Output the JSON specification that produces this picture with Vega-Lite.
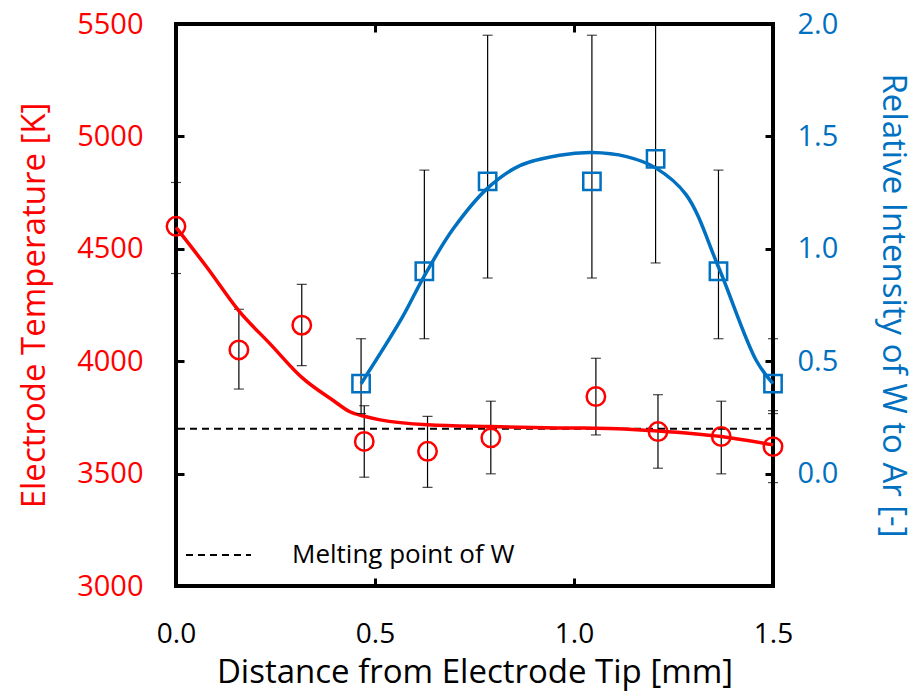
{
  "$schema": "https://vega.github.io/schema/vega-lite/v6.json",
  "autosize": {"type": "none"},
  "width": 597,
  "height": 562,
  "padding": {"left": 176, "top": 24, "right": 144, "bottom": 112},
  "background": "white",
  "config": {
    "view": {"stroke": "black", "strokeWidth": 4},
    "font": "Open Sans",
    "scale": {"continuousPadding": 0},
    "axis": {"grid": false, "domain": false, "tickSize": -8, "tickWidth": 3, "tickColor": "black", "titleFontWeight": "normal", "labelFont": "Open Sans", "titleFont": "Open Sans", "labelFlush": false}
  },
  "datasets": {
    "temp": [
      {"x": 0.0, "T": 4600, "lo": 4390, "hi": 4795},
      {"x": 0.158, "T": 4050, "lo": 3876, "hi": 4231},
      {"x": 0.316, "T": 4160, "lo": 3980, "hi": 4342},
      {"x": 0.473, "T": 3643, "lo": 3484, "hi": 3802},
      {"x": 0.632, "T": 3599, "lo": 3439, "hi": 3755},
      {"x": 0.791, "T": 3659, "lo": 3499, "hi": 3822},
      {"x": 1.055, "T": 3843, "lo": 3672, "hi": 4013},
      {"x": 1.211, "T": 3687, "lo": 3524, "hi": 3851},
      {"x": 1.37, "T": 3665, "lo": 3499, "hi": 3822},
      {"x": 1.5, "T": 3620, "lo": 3460, "hi": 3780}
    ],
    "tempFit": [
      {"x": 0.0, "T": 4595},
      {"x": 0.078, "T": 4417},
      {"x": 0.158, "T": 4224},
      {"x": 0.237, "T": 4076},
      {"x": 0.316, "T": 3928},
      {"x": 0.396, "T": 3824},
      {"x": 0.437, "T": 3775},
      {"x": 0.473, "T": 3755},
      {"x": 0.513, "T": 3739},
      {"x": 0.632, "T": 3717},
      {"x": 0.791, "T": 3709},
      {"x": 0.96, "T": 3703},
      {"x": 1.055, "T": 3702},
      {"x": 1.211, "T": 3690},
      {"x": 1.37, "T": 3665},
      {"x": 1.5, "T": 3628}
    ],
    "intens": [
      {"x": 0.465, "I": 0.40, "lo": 0.267, "hi": 0.60},
      {"x": 0.624, "I": 0.90, "lo": 0.60, "hi": 1.35},
      {"x": 0.783, "I": 1.30, "lo": 0.87, "hi": 1.95},
      {"x": 1.045, "I": 1.30, "lo": 0.87, "hi": 1.95},
      {"x": 1.205, "I": 1.40, "lo": 0.937, "hi": 2.0},
      {"x": 1.363, "I": 0.90, "lo": 0.60, "hi": 1.35},
      {"x": 1.5, "I": 0.40, "lo": 0.267, "hi": 0.60}
    ],
    "intFit": [
      {"x": 0.465, "I": 0.40},
      {"x": 0.567, "I": 0.69},
      {"x": 0.624, "I": 0.88},
      {"x": 0.697, "I": 1.09},
      {"x": 0.783, "I": 1.27},
      {"x": 0.864, "I": 1.37},
      {"x": 0.964, "I": 1.416},
      {"x": 1.045, "I": 1.428},
      {"x": 1.132, "I": 1.41},
      {"x": 1.205, "I": 1.36},
      {"x": 1.282, "I": 1.24},
      {"x": 1.363, "I": 0.919},
      {"x": 1.458, "I": 0.503},
      {"x": 1.5, "I": 0.40}
    ],
    "melt": [{"T": 3700, "label": "Melting point of W"}]
  },
  "layer": [
    {
      "layer": [
        {
          "data": {"name": "melt"},
          "mark": {"type": "rule", "strokeWidth": 2, "color": "black"},
          "encoding": {
            "y": {"field": "T", "type": "quantitative", "scale": {"domain": [3000, 5500], "nice": false}},
            "strokeDash": {
              "field": "label", "type": "nominal",
              "scale": {"range": [[7, 5]]},
              "legend": {
                "title": null, "orient": "bottom-left", "offset": 9, "padding": 0,
                "symbolType": "stroke", "symbolSize": 4225, "symbolStrokeWidth": 2,
                "symbolStrokeColor": "black", "clipHeight": 44,
                "labelFontSize": 26, "labelFont": "Open Sans", "labelColor": "black", "labelOffset": 40, "labelLimit": 400
              }
            }
          }
        },
        {
          "data": {"name": "temp"},
          "mark": {"type": "rule", "strokeWidth": 1.2, "color": "black"},
          "encoding": {
            "x": {"field": "x", "type": "quantitative"},
            "y": {"field": "lo", "type": "quantitative"},
            "y2": {"field": "hi"}
          }
        },
        {
          "data": {"name": "temp"},
          "mark": {"type": "tick", "orient": "horizontal", "thickness": 1.2, "size": 10, "color": "black"},
          "encoding": {
            "x": {"field": "x", "type": "quantitative"},
            "y": {"field": "lo", "type": "quantitative"}
          }
        },
        {
          "data": {"name": "temp"},
          "mark": {"type": "tick", "orient": "horizontal", "thickness": 1.2, "size": 10, "color": "black"},
          "encoding": {
            "x": {"field": "x", "type": "quantitative"},
            "y": {"field": "hi", "type": "quantitative"}
          }
        },
        {
          "data": {"name": "tempFit"},
          "mark": {"type": "line", "color": "#FF0000", "strokeWidth": 3.5, "interpolate": "monotone"},
          "encoding": {
            "x": {"field": "x", "type": "quantitative"},
            "y": {"field": "T", "type": "quantitative"}
          }
        },
        {
          "data": {"name": "temp"},
          "mark": {"type": "point", "shape": "circle", "filled": false, "color": "#FF0000", "strokeWidth": 2.5, "size": 340, "opacity": 1},
          "encoding": {
            "x": {
              "field": "x", "type": "quantitative",
              "scale": {"domain": [0, 1.5], "nice": false, "padding": 0},
              "axis": {
                "orient": "bottom", "values": [0, 0.5, 1, 1.5], "format": ".1f",
                "title": "Distance from Electrode Tip [mm]",
                "labelFontSize": 28, "labelColor": "black", "labelPadding": 42,
                "titleFontSize": 33, "titleColor": "black", "titlePadding": 8
              }
            },
            "y": {
              "field": "T", "type": "quantitative",
              "axis": {
                "orient": "left", "values": [3000, 3500, 4000, 4500, 5000, 5500], "format": "d",
                "title": "Electrode Temperature [K]",
                "labelFontSize": 29, "labelColor": "#FF0000", "labelPadding": 41,
                "titleFontSize": 33, "titleColor": "#FF0000", "titlePadding": 25
              }
            }
          }
        }
      ]
    },
    {
      "layer": [
        {
          "data": {"name": "intens"},
          "mark": {"type": "rule", "strokeWidth": 1.2, "color": "black"},
          "encoding": {
            "x": {"field": "x", "type": "quantitative"},
            "y": {"field": "lo", "type": "quantitative", "scale": {"domain": [-0.5, 2.0], "nice": false, "padding": 0}},
            "y2": {"field": "hi"}
          }
        },
        {
          "data": {"name": "intens"},
          "mark": {"type": "tick", "orient": "horizontal", "thickness": 1.2, "size": 10, "color": "black"},
          "encoding": {
            "x": {"field": "x", "type": "quantitative"},
            "y": {"field": "lo", "type": "quantitative"}
          }
        },
        {
          "data": {"name": "intens"},
          "mark": {"type": "tick", "orient": "horizontal", "thickness": 1.2, "size": 10, "color": "black"},
          "encoding": {
            "x": {"field": "x", "type": "quantitative"},
            "y": {"field": "hi", "type": "quantitative"}
          }
        },
        {
          "data": {"name": "intFit"},
          "mark": {"type": "line", "color": "#0070C0", "strokeWidth": 3.5, "interpolate": "catmull-rom"},
          "encoding": {
            "x": {"field": "x", "type": "quantitative"},
            "y": {"field": "I", "type": "quantitative"}
          }
        },
        {
          "data": {"name": "intens"},
          "mark": {"type": "point", "shape": "square", "filled": false, "color": "#0070C0", "strokeWidth": 2.5, "size": 300, "opacity": 1},
          "encoding": {
            "x": {
              "field": "x", "type": "quantitative",
              "axis": {"orient": "top", "values": [0.5, 1.0], "labels": false, "title": null}
            },
            "y": {
              "field": "I", "type": "quantitative",
              "axis": {
                "orient": "right", "values": [0, 0.5, 1, 1.5, 2], "format": ".1f",
                "title": "Relative Intensity of W to Ar [-]",
                "labelFontSize": 29, "labelColor": "#0070C0", "labelPadding": 32,
                "titleFontSize": 33, "titleColor": "#0070C0", "titlePadding": 38
              }
            }
          }
        }
      ]
    }
  ],
  "resolve": {"scale": {"y": "independent"}, "axis": {"x": "independent"}}
}
